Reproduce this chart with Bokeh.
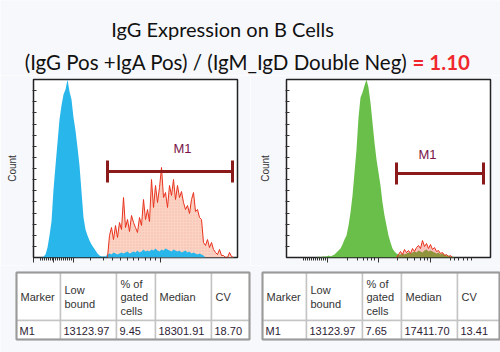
from bokeh.plotting import figure
from bokeh.layouts import column, row
from bokeh.models import FixedTicker, Range1d, CustomJSTickFormatter
from bokeh.core.properties import value
from bokeh.embed import file_html
from bokeh.resources import INLINE

BG = "#f7f8fc"

# ---------------- data ----------------
title_line1 = "IgG Expression on B Cells"
title_line2 = "(IgG Pos +IgA Pos) / (IgM_IgD Double Neg)"
ratio_text = "= 1.10"

# left panel (IgG): channel bins, control (blue) and stained (red) counts
left_channels = list(range(40, 1001, 10))
left_blue = [0, 1, 3, 10, 22, 36, 68, 92, 115, 138, 152, 163, 168, 178, 166, 158, 140, 127, 110, 92,
             66, 40, 28, 22, 17, 13, 10, 7, 4, 2, 1, 1, 1,
             3, 4, 3, 5, 4, 3, 4, 5, 4, 5, 6, 4, 5, 6, 5, 7, 5, 6, 8, 6,
             7, 6, 8, 7, 9, 7, 6, 8, 7, 9, 8, 7, 6, 8, 7, 6, 7, 5, 6, 7,
             5, 6, 4, 5, 4, 3, 4, 3, 2,
             0, 0, 0, 0, 0, 0, 0, 0, 0, 0, 0, 0, 0, 0, 0]
left_red = [0] * 33 + [0, 22, 30, 18, 32, 20, 35, 28, 60, 30, 38, 26, 42, 35, 30, 25, 40, 32, 58, 38,
                       48, 36, 78, 50, 72, 55, 70, 90, 60, 65, 50, 72, 62, 78, 58, 72, 60, 66, 55, 48,
                       52, 44, 58, 65, 46, 48, 40, 38, 15, 12, 18, 10, 15, 8, 5, 3, 8, 2, 2, 0,
                       0, 5, 1, 0]

# right panel (IgA): channel bins, control (green) and stained (red) counts
right_channels = list(range(150, 901, 10))
right_green = [0, 1, 0, 1, 1, 1, 2, 1, 2, 3, 5, 7, 9, 13, 18, 22, 32, 45, 62, 85,
               108, 140, 160, 165, 172, 178, 170, 155, 135, 115, 98, 85, 72, 55, 42, 32, 22, 15, 9, 6,
               4, 3,
               3, 4, 3, 4, 5, 4, 5, 6, 5, 7, 6, 5, 7, 8, 6, 7, 6, 5, 4, 5, 3, 4, 3, 2, 2, 1, 1,
               0, 0, 0, 0, 0, 0, 0]
right_red = [0] * 41 + [3, 6, 3, 8, 5, 7, 4, 9, 6, 10, 12, 9, 17, 11, 14, 9, 13, 8, 10, 6,
                        7, 4, 5, 2, 3, 1, 2, 0, 0, 0, 0, 0, 0, 0, 0]

marker_name = "M1"
left_gate = [370, 995]
right_gate = [550, 985]
left_gate_level = 86
right_gate_level = 84

table_headers = ["Marker", "Low\nbound", "% of\ngated\ncells", "Median", "CV"]
left_row = ["M1", "13123.97", "9.45", "18301.91", "18.70"]
right_row = ["M1", "13123.97", "7.65", "17411.70", "13.41"]

# ---------------- style ----------------
FONT = "Lato"
TFONT = "Liberation Sans"
GATE_COLOR = "#8b1a1a"
RED = "#e8321e"


def base_fig(w, h, xr, yr):
    p = figure(width=w, height=h, x_range=xr, y_range=yr, output_backend="svg",
               toolbar_location=None, min_border=0)
    p.border_fill_color = BG
    p.background_fill_color = BG
    p.outline_line_color = None
    p.axis.visible = False
    p.grid.visible = False
    return p


# ---------------- title ----------------
tp = base_fig(500, 75, Range1d(0, 500), Range1d(75, 0))
tp.text(x=[222], y=[28], text=[title_line1], text_font=value(FONT), text_font_size="20px",
        text_align="center", text_baseline="alphabetic", text_color="#111111")
tp.text(x=[407], y=[61.5], text=[title_line2], text_font=value(FONT), text_font_size="20.5px",
        text_align="right", text_baseline="alphabetic", text_color="#111111")
tp.text(x=[412], y=[61.5], text=[ratio_text], text_font=value(FONT), text_font_size="20.5px",
        text_font_style="bold", text_align="left", text_baseline="alphabetic", text_color="#f0282d")


# ---------------- histograms ----------------
def hist_fig(left_border, xmaj, xmin):
    p = figure(width=250, height=190, x_range=Range1d(0, 1020), y_range=Range1d(0, 178),
               output_backend="svg", toolbar_location=None)
    p.min_border_left = left_border
    p.min_border_right = 250 - left_border - 204
    p.min_border_top = 4
    p.min_border_bottom = 8
    p.border_fill_color = BG
    p.background_fill_color = "white"
    p.outline_line_color = "#222222"
    p.outline_line_width = 1.5
    p.grid.visible = False
    blank = CustomJSTickFormatter(code="return '';")
    xa = p.xaxis[0]
    xa.ticker = FixedTicker(ticks=xmaj, minor_ticks=xmin)
    xa.formatter = blank
    xa.major_label_text_font_size = "0px"
    xa.major_label_standoff = 0
    xa.axis_line_color = None
    xa.major_tick_in = 0
    xa.major_tick_out = 5
    xa.minor_tick_in = 0
    xa.minor_tick_out = 3
    xa.major_tick_line_color = "#333333"
    xa.minor_tick_line_color = "#333333"
    ya = p.yaxis[0]
    ya.ticker = FixedTicker(ticks=[178 / 16 * k for k in range(1, 16)], minor_ticks=[])
    ya.formatter = blank
    ya.major_label_text_font_size = "0px"
    ya.major_label_standoff = 0
    ya.axis_line_color = None
    ya.major_tick_in = 3
    ya.major_tick_out = 1
    ya.major_tick_line_color = "#333333"
    ya.axis_label = "Count"
    ya.axis_label_text_font = TFONT
    ya.axis_label_text_font_size = "10px"
    ya.axis_label_text_font_style = "normal"
    ya.axis_label_text_color = "#333333"
    ya.axis_label_standoff = 15
    return p


def gate(p, xs, level, label_x, label_y):
    p.segment(x0=[xs[0]], y0=[level], x1=[xs[1]], y1=[level], line_color=GATE_COLOR, line_width=3)
    p.segment(x0=xs, y0=[level - 11] * 2, x1=xs, y1=[level + 11] * 2, line_color=GATE_COLOR, line_width=3)
    p.text(x=[label_x], y=[label_y], text=[marker_name], text_font=value(TFONT), text_font_size="13px",
           text_align="center", text_baseline="middle", text_color="#7a1448")


def red_span(xs, ys):
    idx = [i for i, v in enumerate(ys) if v > 0]
    a, b = max(idx[0] - 1, 0), min(idx[-1] + 2, len(ys))
    return xs[a:b], ys[a:b]


lp = hist_fig(33, [0, 100, 200, 635],
              [r * 5 for r in [7, 9, 11, 13, 15, 17, 19, 22, 24, 26, 28, 30, 32, 34, 36, 38,
                               57, 70, 79, 87, 94, 100, 105, 112, 117, 122]])
lp.varea(x=left_channels, y1=0, y2=left_red, fill_color="#fad3c4",
         hatch_pattern="dot", hatch_color="#f3a48f", hatch_scale=3, hatch_alpha=0.5)
lp.varea(x=left_channels, y1=0, y2=left_blue, fill_color="#29b6ea")
rx, ry = red_span(left_channels, left_red)
lp.line(rx, ry, line_color=RED, line_width=1)
gate(lp, left_gate, left_gate_level, 745, 109)

rp = hist_fig(36, [205, 460, 720],
              [r * 5 for r in [17, 19, 21, 23, 25, 27, 29, 31, 33, 35, 37, 39,
                               61, 71, 77, 81, 85, 88, 111, 121, 128, 134, 138, 141,
                               164, 168, 172, 177, 181, 185]])
rp.varea(x=right_channels, y1=0, y2=right_green, fill_color="#6abf4b")
rp.varea(x=right_channels, y1=0, y2=right_red, fill_color=RED, fill_alpha=0.3)
rx, ry = red_span(right_channels, right_red)
rp.line(rx, ry, line_color=RED, line_width=1)
gate(rp, right_gate, right_gate_level, 705, 103)

# ---------------- tables ----------------
bp = base_fig(500, 87, Range1d(0, 500), Range1d(352, 265))
row_edges = [272, 320, 339]
header_mid = 296.5
line_h = 13.5


def table(p, col_edges, values):
    for i in range(len(col_edges) - 1):
        for j in range(len(row_edges) - 1):
            p.quad(left=col_edges[i], right=col_edges[i + 1], top=row_edges[j], bottom=row_edges[j + 1],
                   fill_color="white", line_color="#c4c4c4", line_width=1.5)
    p.quad(left=col_edges[0], right=col_edges[-1], top=row_edges[0], bottom=row_edges[-1],
           fill_color=None, line_color="#9a9a9a", line_width=2)
    for i, h in enumerate(table_headers):
        lines = h.split("\n")
        n = len(lines)
        ys = [header_mid + (k - (n - 1) / 2) * line_h for k in range(n)]
        p.text(x=[col_edges[i] + 4] * n, y=ys, text=lines, text_font=value(TFONT), text_font_size="11px",
               text_baseline="middle", text_align="left", text_color="#333333")
    p.text(x=[e + 3 for e in col_edges[:-1]], y=[330] * len(values), text=values, text_font=value(TFONT),
           text_font_size="11px", text_baseline="middle", text_align="left", text_color="#2d1a35")


table(bp, [16, 60, 116, 155, 211, 249], left_row)
table(bp, [262, 306, 362, 401, 457, 499], right_row)

layout = column(tp, row(lp, rp, spacing=0), bp, spacing=0)
open("out.html", "w").write(file_html(layout, INLINE))
